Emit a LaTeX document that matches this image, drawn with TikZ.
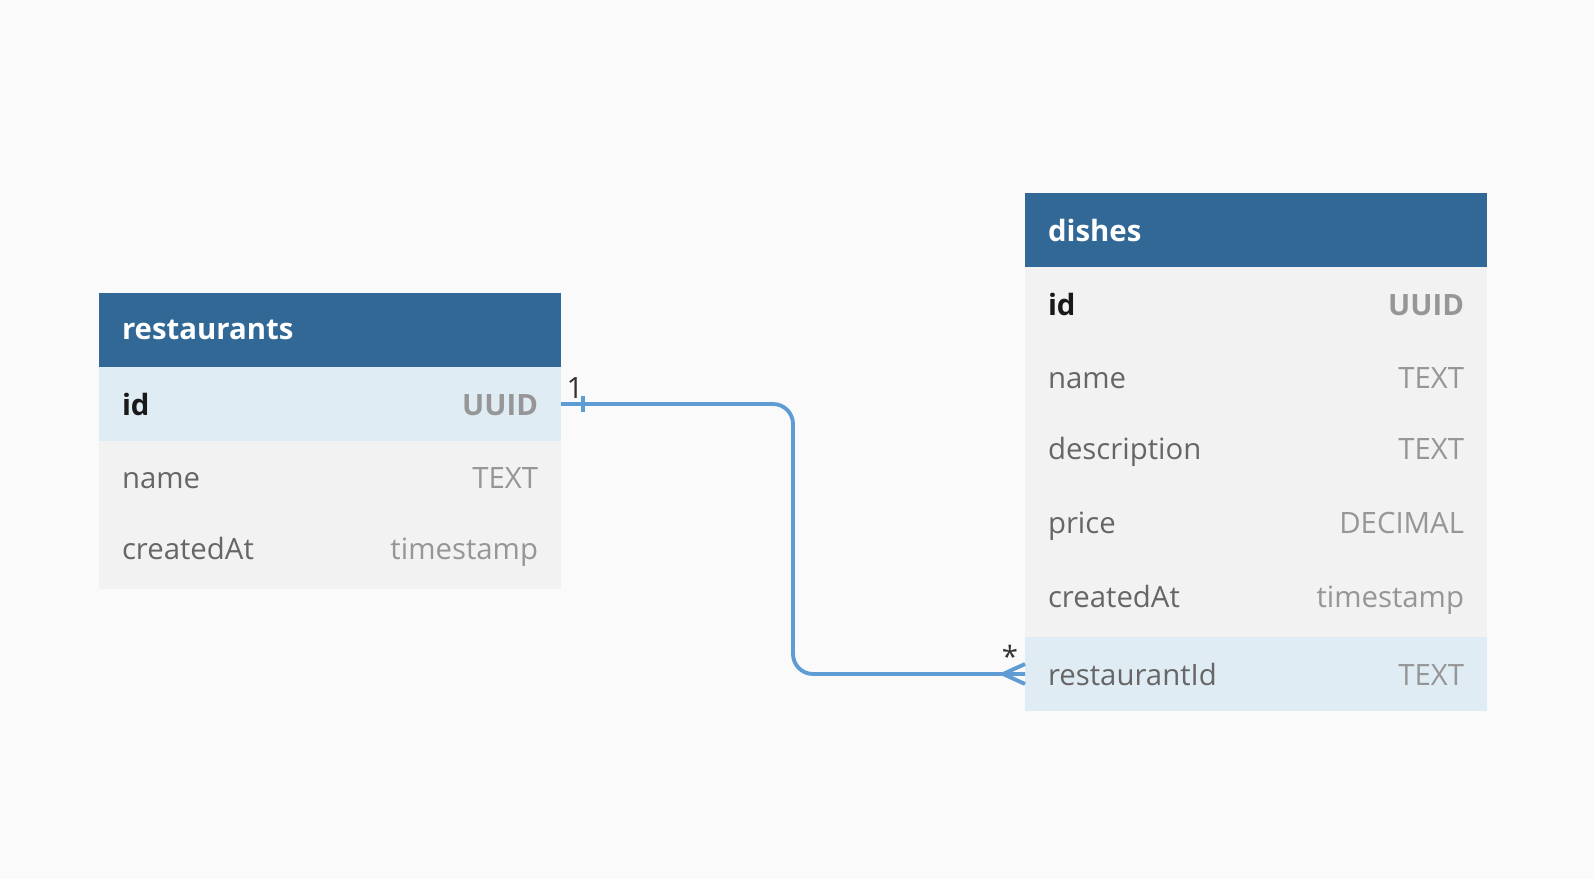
\documentclass[tikz,border=0pt]{standalone}
\usepackage{fontspec}
\setmainfont{Open Sans}
\usetikzlibrary{positioning,calc}

\definecolor{headblue}{RGB}{49,104,149}
\definecolor{rowgray}{RGB}{242,242,242}
\definecolor{rowblue}{RGB}{223,236,244}
\definecolor{bggray}{RGB}{250,250,250}
\definecolor{relblue}{RGB}{96,156,212}
\definecolor{fieldgray}{RGB}{102,102,102}
\definecolor{typegray}{RGB}{150,150,150}

\newcommand{\fieldrow}[2]{{\color{fieldgray}#1}\hfill{\color{typegray}#2}}
\newcommand{\keyrow}[2]{\textbf{\color{black!90}#1}\hfill\textbf{\color{typegray}#2}}

\begin{document}
\begin{tikzpicture}[
        tablehead/.style={rectangle, fill=headblue, text=white, outer sep=0pt, minimum height=1.48cm, text width=8.32cm, inner xsep=0.46cm, align=left, font=\bfseries\fontsize{16.7}{19}\selectfont},
        tablerow/.style={rectangle, fill=rowgray, outer sep=0pt, minimum height=1.48cm, text width=8.32cm, inner xsep=0.46cm, align=left, font=\fontsize{16.7}{19}\selectfont},
        keyfield/.style={tablerow, fill=rowblue},
        relation/.style={draw=relblue, line width=2.2pt},
        card/.style={text=black!80, font=\fontsize{16.7}{19}\selectfont}
    ]
    \fill[bggray] (0,0) rectangle (31.88,-17.58);
    \useasboundingbox (0,0) rectangle (31.88,-17.58);

    % restaurants
    \node[tablehead, anchor=north west] (rest) at (1.98,-5.86) {restaurants};
    \node[keyfield, below=0pt of rest] (rest-id) {\keyrow{id}{UUID}};
    \node[tablerow, below=0pt of rest-id] (rest-name) {\fieldrow{name}{TEXT}};
    \node[tablerow, below=0pt of rest-name] (rest-created) {\fieldrow{createdAt}{timestamp}};

    % dishes
    \node[tablehead, anchor=north west] (dish) at (20.5,-3.86) {dishes};
    \node[tablerow, below=0pt of dish] (dish-id) {\keyrow{id}{UUID}};
    \node[tablerow, below=0pt of dish-id] (dish-name) {\fieldrow{name}{TEXT}};
    \node[tablerow, below=0pt of dish-name] (dish-desc) {\fieldrow{description}{TEXT}};
    \node[tablerow, below=0pt of dish-desc] (dish-price) {\fieldrow{price}{DECIMAL}};
    \node[tablerow, below=0pt of dish-price] (dish-created) {\fieldrow{createdAt}{timestamp}};
    \node[keyfield, below=0pt of dish-created] (dish-rid) {\fieldrow{restaurantId}{TEXT}};

    \draw[relation, rounded corners=0.4cm] (rest-id.east) -- ++(4.64,0) |- (dish-rid.west);
    \draw[relation] ($(rest-id.east)+(0.44,0.16)$) -- ($(rest-id.east)+(0.44,-0.16)$);
    \draw[relation] ($(dish-rid.west)+(0,0.2)$) -- ($(dish-rid.west)+(-0.44,0)$) -- ($(dish-rid.west)+(0,-0.2)$);

    \node[card] (one) at ($(rest-id.east)+(0.28,0.32)$) {1};
    \node[card] (many) at ($(dish-rid.west)+(-0.3,0.36)$) {*};
\end{tikzpicture}
\end{document}
